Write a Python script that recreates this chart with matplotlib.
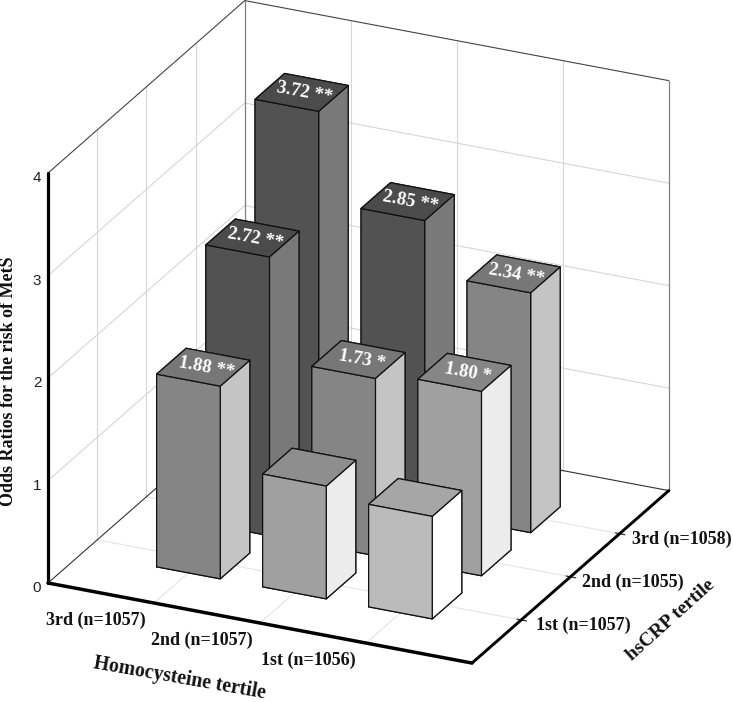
import matplotlib
matplotlib.use("Agg")
import matplotlib.pyplot as plt
import numpy as np
from mpl_toolkits.mplot3d import proj3d

plt.rcParams['font.family'] = ['Liberation Serif', 'DejaVu Serif']

# ---- data -------------------------------------------------------------
homocysteine_labels = ['3rd (n=1057)', '2nd (n=1057)', '1st (n=1056)']
hscrp_labels = ['1st (n=1057)', '2nd (n=1055)', '3rd (n=1058)']
z_ticks = [0, 1, 2, 3, 4]
hscrp_row1 = [1.88, 1.10, 1.00]
hscrp_row2 = [2.72, 1.73, 1.80]
hscrp_row3 = [3.72, 2.85, 2.34]
labels_row1 = ['1.88 **', '', '']
labels_row2 = ['2.72 **', '1.73 *', '1.80 *']
labels_row3 = ['3.72 **', '2.85 **', '2.34 **']
rows = [hscrp_row1, hscrp_row2, hscrp_row3]
row_labels = [labels_row1, labels_row2, labels_row3]

# (top, front, right) greys
DARK = ('#4b4b4b', '#525252', '#797979')
MID = ('#777777', '#858585', '#c4c4c4')
LIGHT = ('#868686', '#a0a0a0', '#ececec')
PALE = ('#8e8e8e', '#a0a0a0', '#ececec')
PALEST = ('#a6a6a6', '#bbbbbb', '#ffffff')
shades = [[MID, PALE, PALEST], [DARK, MID, LIGHT], [DARK, DARK, MID]]
BAR_W = 0.6

# ---- figure -----------------------------------------------------------
W, H = 733, 702
fig = plt.figure(figsize=(W / 100, H / 100), dpi=100, facecolor='white')
ax = fig.add_axes([0, 0, 1, 1], projection='3d', proj_type='ortho',
                  computed_zorder=False)
ax.view_init(elev=24, azim=-65.1)
ax.set_xlim(0, 4)
ax.set_ylim(0, 4)
ax.set_zlim(0, 4)
ax.set_box_aspect((1, 1, 0.96))
ax.set_axis_off()


def to_px(x, y, z):
    ax.apply_aspect()
    X, Y, _ = proj3d.proj_transform(x, y, z, ax.get_proj())
    return ax.transData.transform((X, Y))


# fit the projected box onto the reference's pixel frame
span = to_px(4, 0, 0)[0] - to_px(0, 0, 0)[0]
zoom = 424 / span
ax.set_box_aspect((1, 1, 0.96), zoom=zoom)
o = to_px(0, 0, 0)
dx = (48 - o[0]) / W
dy = ((H - 583) - o[1]) / H
ax.set_position([dx, dy, 1, 1])


def label3d(x, y, z, s, **kw):
    """Text anchored at a 3D data position, kept as a plain figure text."""
    px = to_px(x, y, z)
    fig.text(px[0] / W, px[1] / H, s, ha='center', va='center', **kw)


def line(xs, ys, zs, color, lw, z=1):
    ax.plot(xs, ys, zs, color=color, lw=lw, zorder=z,
            solid_capstyle='round', clip_on=False)


GRID = '#d6d6d6'
FLOOR = '#e4e4e4'
for t in [1, 2, 3]:
    line([0, 4], [t, t], [0, 0], FLOOR, 0.8)       # floor
    line([t, t], [0, 4], [0, 0], FLOOR, 0.8)
    line([0, 0], [0, 4], [t, t], GRID, 0.8)        # left wall
    line([0, 4], [4, 4], [t, t], GRID, 0.8)        # back wall
    line([0, 0], [t, t], [0, 4], GRID, 0.8)
    line([t, t], [4, 4], [0, 4], GRID, 0.8)
    line([3.96, 4.05], [t, t], [0, 0], '#333333', 0.9, z=2)

line([0, 4], [4, 4], [4, 4], '#444444', 0.8)
line([0, 0], [0, 4], [4, 4], '#444444', 0.8)
line([0, 0], [4, 4], [0, 4], '#808080', 0.9)
line([4, 4], [4, 4], [0, 4], '#808080', 0.9)
line([0, 4], [4, 4], [0, 0], '#333333', 0.8)
line([0, 0], [0, 4], [0, 0], '#333333', 0.8)

# ---- bars, back row first, left to right -------------------------------
order = 10
for j in [2, 1, 0]:
    for i in range(3):
        top, front, right = shades[j][i]
        # face order of bar3d: -z, +z, -y, +y, -x, +x
        ax.bar3d(i + 1 - BAR_W / 2, j + 1 - BAR_W / 2, 0, BAR_W, BAR_W, rows[j][i],
                 color=[front, top, front, front, front, right],
                 edgecolor='#111111', linewidth=0.9, shade=False, zorder=order)
        if row_labels[j][i]:
            label3d(i + 1 + 0.03, j + 1, rows[j][i], row_labels[j][i], color='white',
                    fontsize=13.5, fontweight='bold', rotation=-10.5,
                    rotation_mode='anchor')
        order += 2

# ---- heavy axes --------------------------------------------------------
line([0, 0], [0, 0], [0, 4], 'black', 2.3, z=60)
line([0, 4], [0, 0], [0, 0], 'black', 2.5, z=60)
line([4, 4], [0, 4], [0, 0], 'black', 2.1, z=60)

# ---- tick labels -------------------------------------------------------
for i, s in enumerate(homocysteine_labels):
    label3d(i + 1 - 0.30, -0.53, 0, s, fontsize=13, fontweight='bold', color='#111111')
for j, s in enumerate(hscrp_labels):
    label3d(4.53, j + 1 + 0.12, 0, s, fontsize=13, fontweight='bold', color='#111111')
for t in z_ticks:
    label3d(-0.085, -0.04, t - 0.05, str(t), fontsize=11, family='Liberation Sans',
            color='#222222')

# ---- axis titles -------------------------------------------------------
fig.text(9 / W, 1 - 381 / H, 'Odds Ratios for the risk of MetS', rotation=90,
         fontsize=13, fontweight='bold', ha='center', va='center', color='#111111')
fig.text(180 / W, 1 - 678 / H, 'Homocysteine tertile', rotation=-10,
         rotation_mode='anchor', fontsize=14.2, fontweight='bold',
         ha='center', va='center', color='#111111')
fig.text(671 / W, 1 - 620 / H, 'hsCRP tertile', rotation=42,
         rotation_mode='anchor', fontsize=14, fontweight='bold',
         ha='center', va='center', color='#111111')

fig.savefig('out.png', dpi=100)
